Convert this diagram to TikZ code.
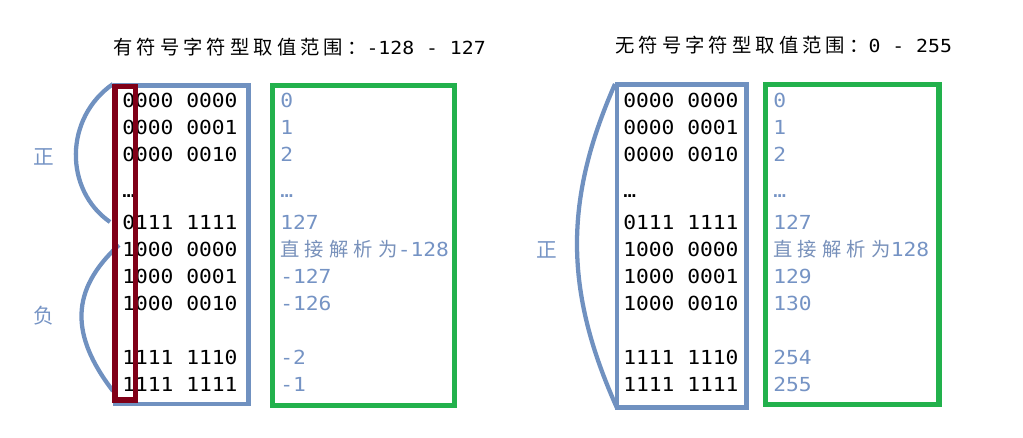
\documentclass[tikz,border=0pt]{standalone}
\usepackage{fontspec}
\newfontfamily\cjk{Noto Sans CJK SC}
\newfontfamily\cjkls[LetterSpace=21]{Noto Sans CJK SC}
\newfontfamily\cjkvl[LetterSpace=27]{Noto Sans CJK SC}
\newfontfamily\mono[FakeStretch=1.1]{DejaVu Sans Mono}
\definecolor{boxblue}{RGB}{112,145,192}
\definecolor{txtblue}{RGB}{117,147,196}
\definecolor{darkred}{RGB}{128,0,24}
\definecolor{boxgreen}{RGB}{34,177,76}
\tikzset{
  bin/.style={anchor=base west, inner sep=0pt, font=\mono\fontsize{14.5}{16}\selectfont, text=black},
  val/.style={anchor=base west, inner sep=0pt, font=\mono\fontsize{14.5}{16}\selectfont, text=txtblue},
  ttl/.style={anchor=west, inner sep=0pt, font=\cjkls\fontsize{14.5}{16}\selectfont, text=black},
  side/.style={inner sep=0pt, font=\cjk\fontsize{15.5}{16}\selectfont, text=txtblue},
  bluebox/.style={draw=boxblue, line width=3.4pt},
  redbox/.style={draw=darkred, line width=4.2pt},
  greenbox/.style={draw=boxgreen, line width=3.8pt},
  brace/.style={draw=boxblue, line width=3.2pt}
}
\newcommand{\zh}[1]{{\cjkvl\fontsize{14.5}{16}\selectfont\color{txtblue!85!gray}#1}}
\newcommand{\tnum}[1]{{\mono\fontsize{13.5}{16}\selectfont #1}}
\begin{document}
\begin{tikzpicture}[x=0.75pt,y=-0.75pt]
\useasboundingbox (0,0) rectangle (1023,438);

% titles
\node[ttl] (t1) at (113,47) {有符号字符型取值范围：\tnum{-128 - 127}};
\node[ttl] (t2) at (615,45) {无符号字符型取值范围：\tnum{0 - 255}};

% boxes
\draw[bluebox] (115,85.5) rectangle (248.5,404);
\draw[greenbox] (272.5,85.5) rectangle (454.5,405.5);
\draw[bluebox] (617,84.5) rectangle (746.5,407.5);
\draw[greenbox] (765.5,84.5) rectangle (939,404.5);

% brace end points
\coordinate (la) at (113,84);
\coordinate (lb) at (110,222);
\coordinate (lc) at (119,245);
\coordinate (ld) at (113,391);
\coordinate (ra) at (615,84);
\coordinate (rb) at (617,408);

% braces
\draw[brace] (la) .. controls (64,118) and (64,190) .. (lb);
\draw[brace] (lc) .. controls (70,290) and (70,335) .. (ld);
\draw[brace] (ra) .. controls (564,200) and (564,290) .. (rb);

% side labels
\node[side] (pos1) at (44,157) {正};
\node[side] (neg1) at (44,316) {负};
\node[side] (pos2) at (547,250) {正};

% rows
\foreach \y/\b/\v/\w [count=\i] in {
  108/0000 0000/0/0,
  135/0000 0001/1/1,
  162/0000 0010/2/2,
  198/{…}/{…}/{…},
  229/0111 1111/127/127,
  256/1000 0000/{\zh{直接解析为}-128}/{\zh{直接解析为}128},
  283/1000 0001/-127/129,
  310/1000 0010/-126/130,
  364/1111 1110/-2/254,
  391/1111 1111/-1/255}{
  \node[bin] (lbin\i) at (122,\y) {\b};
  \node[val] (lval\i) at (280,\y) {\v};
  \node[bin] (rbin\i) at (623,\y) {\b};
  \node[val] (rval\i) at (773,\y) {\w};
}

% sign bit box
\draw[redbox] (115,86.5) rectangle (135.5,400);
\end{tikzpicture}
\end{document}
